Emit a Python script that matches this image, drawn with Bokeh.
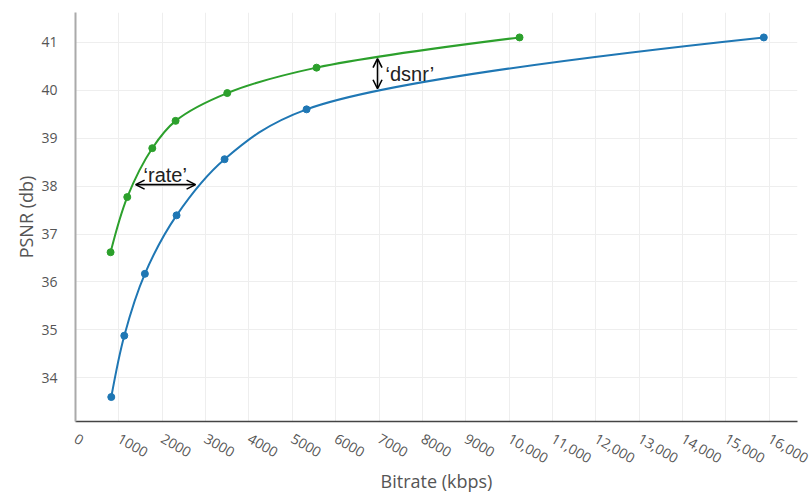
import math
from bokeh.plotting import figure
from bokeh.models import (Range1d, FixedTicker, CustomJSTickFormatter, Arrow, OpenHead,
                          ColumnDataSource)
from bokeh.core.properties import value
from bokeh.embed import file_html
from bokeh.resources import INLINE

# ---- data ----
blue_bitrate = [825, 1125, 1600, 2331, 3438, 5329, 15873]
blue_psnr = [33.60, 34.88, 36.17, 37.39, 38.56, 39.60, 41.10]
green_bitrate = [809, 1194, 1771, 2308, 3500, 5559, 10240]
green_psnr = [36.62, 37.77, 38.79, 39.36, 39.94, 40.47, 41.10]

x_ticks = list(range(0, 16001, 1000))
y_ticks = [34, 35, 36, 37, 38, 39, 40, 41]

rate_arrow_x = [1386, 2769]
rate_arrow_y = 38.03
rate_label = "\u2018rate\u2019"
rate_label_pos = (1570, 38.24)
dsnr_arrow_x = 6965
dsnr_arrow_y = [40.03, 40.66]
dsnr_label = "\u2018dsnr\u2019"
dsnr_label_pos = (7150, 40.33)

x_title = "Bitrate (kbps)"
y_title = "PSNR (db)"

BLUE = "#1f77b4"
GREEN = "#2ca02c"

X0, X1 = 0, 16650
Y0, Y1 = 33.09, 41.62
FRAME_W, FRAME_H = 722, 409
SX = FRAME_W / (X1 - X0)
SY = FRAME_H / (Y1 - Y0)


def spline_segments(xs, ys, smoothness=1.0):
    """Plotly-style spline (Catmull-Rom exp 0.5) in pixel space -> cubic bezier segments."""
    pts = [(x * SX, y * SY) for x, y in zip(xs, ys)]
    n = len(pts)
    tangents = []
    for i in range(1, n - 1):
        prev, cur, nxt = pts[i - 1], pts[i], pts[i + 1]
        d1x, d1y = prev[0] - cur[0], prev[1] - cur[1]
        d2x, d2y = nxt[0] - cur[0], nxt[1] - cur[1]
        d1a = (d1x * d1x + d1y * d1y) ** 0.25
        d2a = (d2x * d2x + d2y * d2y) ** 0.25
        numx = (d2a * d2a * d1x - d1a * d1a * d2x) * smoothness
        numy = (d2a * d2a * d1y - d1a * d1a * d2y) * smoothness
        den1 = 3 * d2a * (d1a + d2a)
        den2 = 3 * d1a * (d1a + d2a)
        tangents.append(((cur[0] + numx / den1, cur[1] + numy / den1),
                         (cur[0] - numx / den2, cur[1] - numy / den2)))
    segs = []
    for i in range(n - 1):
        p0, p1 = pts[i], pts[i + 1]
        if i == 0 or i == n - 2:
            q = tangents[0][0] if i == 0 else tangents[-1][1]
            c0 = (p0[0] + 2 / 3 * (q[0] - p0[0]), p0[1] + 2 / 3 * (q[1] - p0[1]))
            c1 = (p1[0] + 2 / 3 * (q[0] - p1[0]), p1[1] + 2 / 3 * (q[1] - p1[1]))
        else:
            c0 = tangents[i - 1][1]
            c1 = tangents[i][0]
        segs.append((p0, p1, c0, c1))
    d = dict(x0=[], y0=[], x1=[], y1=[], cx0=[], cy0=[], cx1=[], cy1=[])
    for p0, p1, c0, c1 in segs:
        d["x0"].append(p0[0] / SX); d["y0"].append(p0[1] / SY)
        d["x1"].append(p1[0] / SX); d["y1"].append(p1[1] / SY)
        d["cx0"].append(c0[0] / SX); d["cy0"].append(c0[1] / SY)
        d["cx1"].append(c1[0] / SX); d["cy1"].append(c1[1] / SY)
    return ColumnDataSource(d)


p = figure(width=810, height=496, output_backend="svg", toolbar_location=None,
           x_range=Range1d(X0, X1), y_range=Range1d(Y0, Y1),
           min_border_left=75, min_border_right=13, min_border_top=12, min_border_bottom=75)
p.outline_line_color = None
p.background_fill_color = "white"
p.border_fill_color = "white"

for xs, ys, col in [(blue_bitrate, blue_psnr, BLUE), (green_bitrate, green_psnr, GREEN)]:
    src = spline_segments(xs, ys)
    p.bezier(x0="x0", y0="y0", x1="x1", y1="y1", cx0="cx0", cy0="cy0", cx1="cx1", cy1="cy1",
             source=src, line_color=col, line_width=2)
    p.scatter(xs, ys, size=7, color=col)

# annotations
ah = dict(size=9, line_color="black", line_width=1.6)
p.add_layout(Arrow(start=OpenHead(**ah), end=OpenHead(**ah),
                   x_start=rate_arrow_x[0], y_start=rate_arrow_y,
                   x_end=rate_arrow_x[1], y_end=rate_arrow_y,
                   line_color="black", line_width=1.6))
p.add_layout(Arrow(start=OpenHead(**ah), end=OpenHead(**ah),
                   x_start=dsnr_arrow_x, y_start=dsnr_arrow_y[0],
                   x_end=dsnr_arrow_x, y_end=dsnr_arrow_y[1],
                   line_color="black", line_width=1.6))
p.text(x=[rate_label_pos[0]], y=[rate_label_pos[1]], text=[rate_label],
       text_font=value("Liberation Sans"), text_font_size="20px", text_color="#222",
       text_align="left", text_baseline="alphabetic")
p.text(x=[dsnr_label_pos[0]], y=[dsnr_label_pos[1]], text=[dsnr_label],
       text_font=value("Liberation Sans"), text_font_size="20px", text_color="#222",
       text_align="left", text_baseline="alphabetic")

# grids
p.xgrid.ticker = FixedTicker(ticks=x_ticks)
p.ygrid.ticker = FixedTicker(ticks=y_ticks)
p.grid.grid_line_color = "#eeeeee"
p.grid.grid_line_width = 1

# axes
xa = p.xaxis[0]
xa.ticker = FixedTicker(ticks=x_ticks)
xa.formatter = CustomJSTickFormatter(
    code="return tick >= 10000 ? tick.toLocaleString('en-US') : tick.toString();")
xa.major_label_orientation = -math.pi / 6
xa.axis_label = x_title
xa.axis_line_color = "#444444"
xa.axis_line_width = 1.5

ya = p.yaxis[0]
ya.ticker = FixedTicker(ticks=y_ticks)
ya.axis_label = y_title
ya.axis_line_color = "#aaaaaa"
ya.axis_line_width = 2

for ax in (xa, ya):
    ax.major_tick_line_color = None
    ax.minor_tick_line_color = None
    ax.major_label_text_font = "Open Sans"
    ax.major_label_text_font_size = "14px"
    ax.major_label_text_color = "#555555"
    ax.axis_label_text_font = "Open Sans"
    ax.axis_label_text_font_size = "18px"
    ax.axis_label_text_font_style = "normal"
    ax.axis_label_text_color = "#555555"

xa.major_label_standoff = 10
xa.axis_label_standoff = -2
ya.major_label_standoff = 12
ya.axis_label_standoff = 0

open("out.html", "w").write(file_html(p, INLINE))
